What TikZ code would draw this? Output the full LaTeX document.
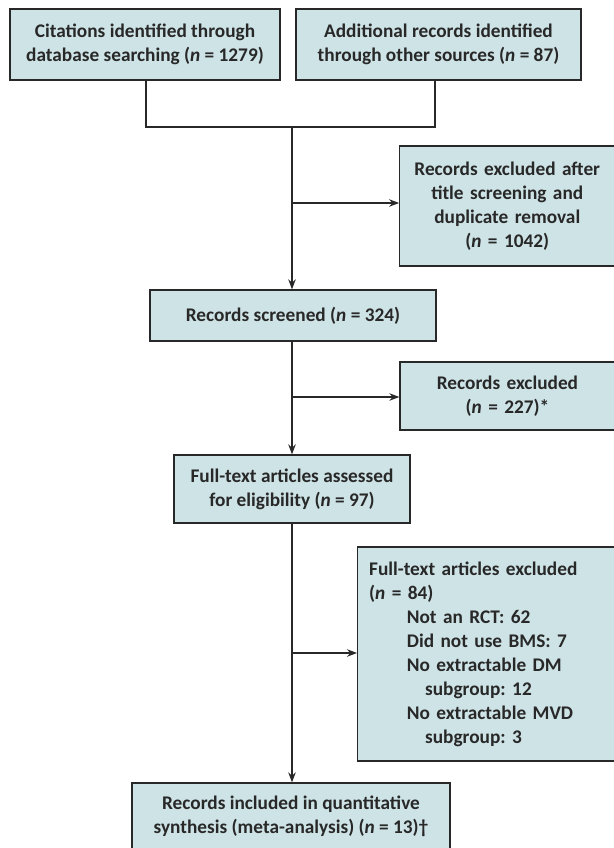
\documentclass[tikz,border=0pt]{standalone}
\usepackage{fontspec}
\setmainfont{Carlito}
\usetikzlibrary{arrows.meta}
\definecolor{boxfill}{RGB}{206,227,230}
\definecolor{ink}{RGB}{40,40,40}
\frenchspacing
\begin{document}
\begin{tikzpicture}[x=1pt,y=-1pt,
  box/.style={draw=ink,fill=boxfill,line width=1.3pt,inner sep=0pt,align=center,
    text=ink,font=\bfseries\fontsize{19.3}{24}\selectfont},
  conn/.style={draw=ink,line width=1.3pt},
  arr/.style={conn,-{Stealth[length=10pt,width=7.5pt]}}]
\useasboundingbox[fill=white] (0,0) rectangle (613,848);
% boxes
\node[box,minimum width=270pt,minimum height=71pt] (b1) at (145,44.5)
  {Citations identified through\\database searching (\textit{n} = 1279)};
\node[box,minimum width=285pt,minimum height=71pt] (b2) at (438.5,44.5)
  {Additional records identified\\through other sources (\textit{n} = 87)};
\node[box,minimum width=215pt,minimum height=120pt,text width=205pt] (e1) at (507.25,206)
  {Records excluded after\\title screening and\\duplicate removal\\(\textit{n} = 1042)};
\node[box,minimum width=286pt,minimum height=51pt] (sc) at (293,315.5)
  {Records screened (\textit{n} = 324)};
\node[box,minimum width=215pt,minimum height=68pt,text width=205pt] (e2) at (507.5,396)
  {Records excluded\\(\textit{n} = 227)*};
\node[box,minimum width=236pt,minimum height=68pt] (as) at (292,489)
  {Full-text articles assessed\\for eligibility (\textit{n} = 97)};
\node[box,minimum width=258pt,minimum height=214pt,align=left,text width=235pt,inner xsep=11.3pt,anchor=west] (e3) at (357,654)
  {Full-text articles excluded\\(\textit{n} = 84)\\
   \hspace*{37.7pt}Not an RCT: 62\\
   \hspace*{37.7pt}Did not use BMS: 7\\
   \hspace*{37.7pt}No extractable DM\\
   \hspace*{56pt}subgroup: 12\\
   \hspace*{37.7pt}No extractable MVD\\
   \hspace*{56pt}subgroup: 3};
\node[box,minimum width=318pt,minimum height=66pt] (fin) at (291,816)
  {Records included in quantitative\\synthesis (meta-analysis) (\textit{n} = 13)\textdagger};
% junction coordinates
\coordinate (jl) at (146,127);
\coordinate (jr) at (435,127);
\coordinate (jm) at (292,127);
\coordinate (j1) at (292,203);
\coordinate (j2) at (292,397);
\coordinate (j3) at (292,653);
% connectors
\draw[conn] (b1.south -| jl) -- (jl) -- (jr) -- (b2.south -| jr);
\draw[arr] (jm) -- (jm |- sc.north);
\draw[arr] (j1) -- (j1 -| e1.west);
\draw[arr] (sc.south -| j2) -- (as.north -| j2);
\draw[arr] (j2) -- (j2 -| e2.west);
\draw[arr] (as.south -| j3) -- (fin.north -| j3);
\draw[arr] (j3) -- (j3 -| e3.west);
\end{tikzpicture}
\end{document}
